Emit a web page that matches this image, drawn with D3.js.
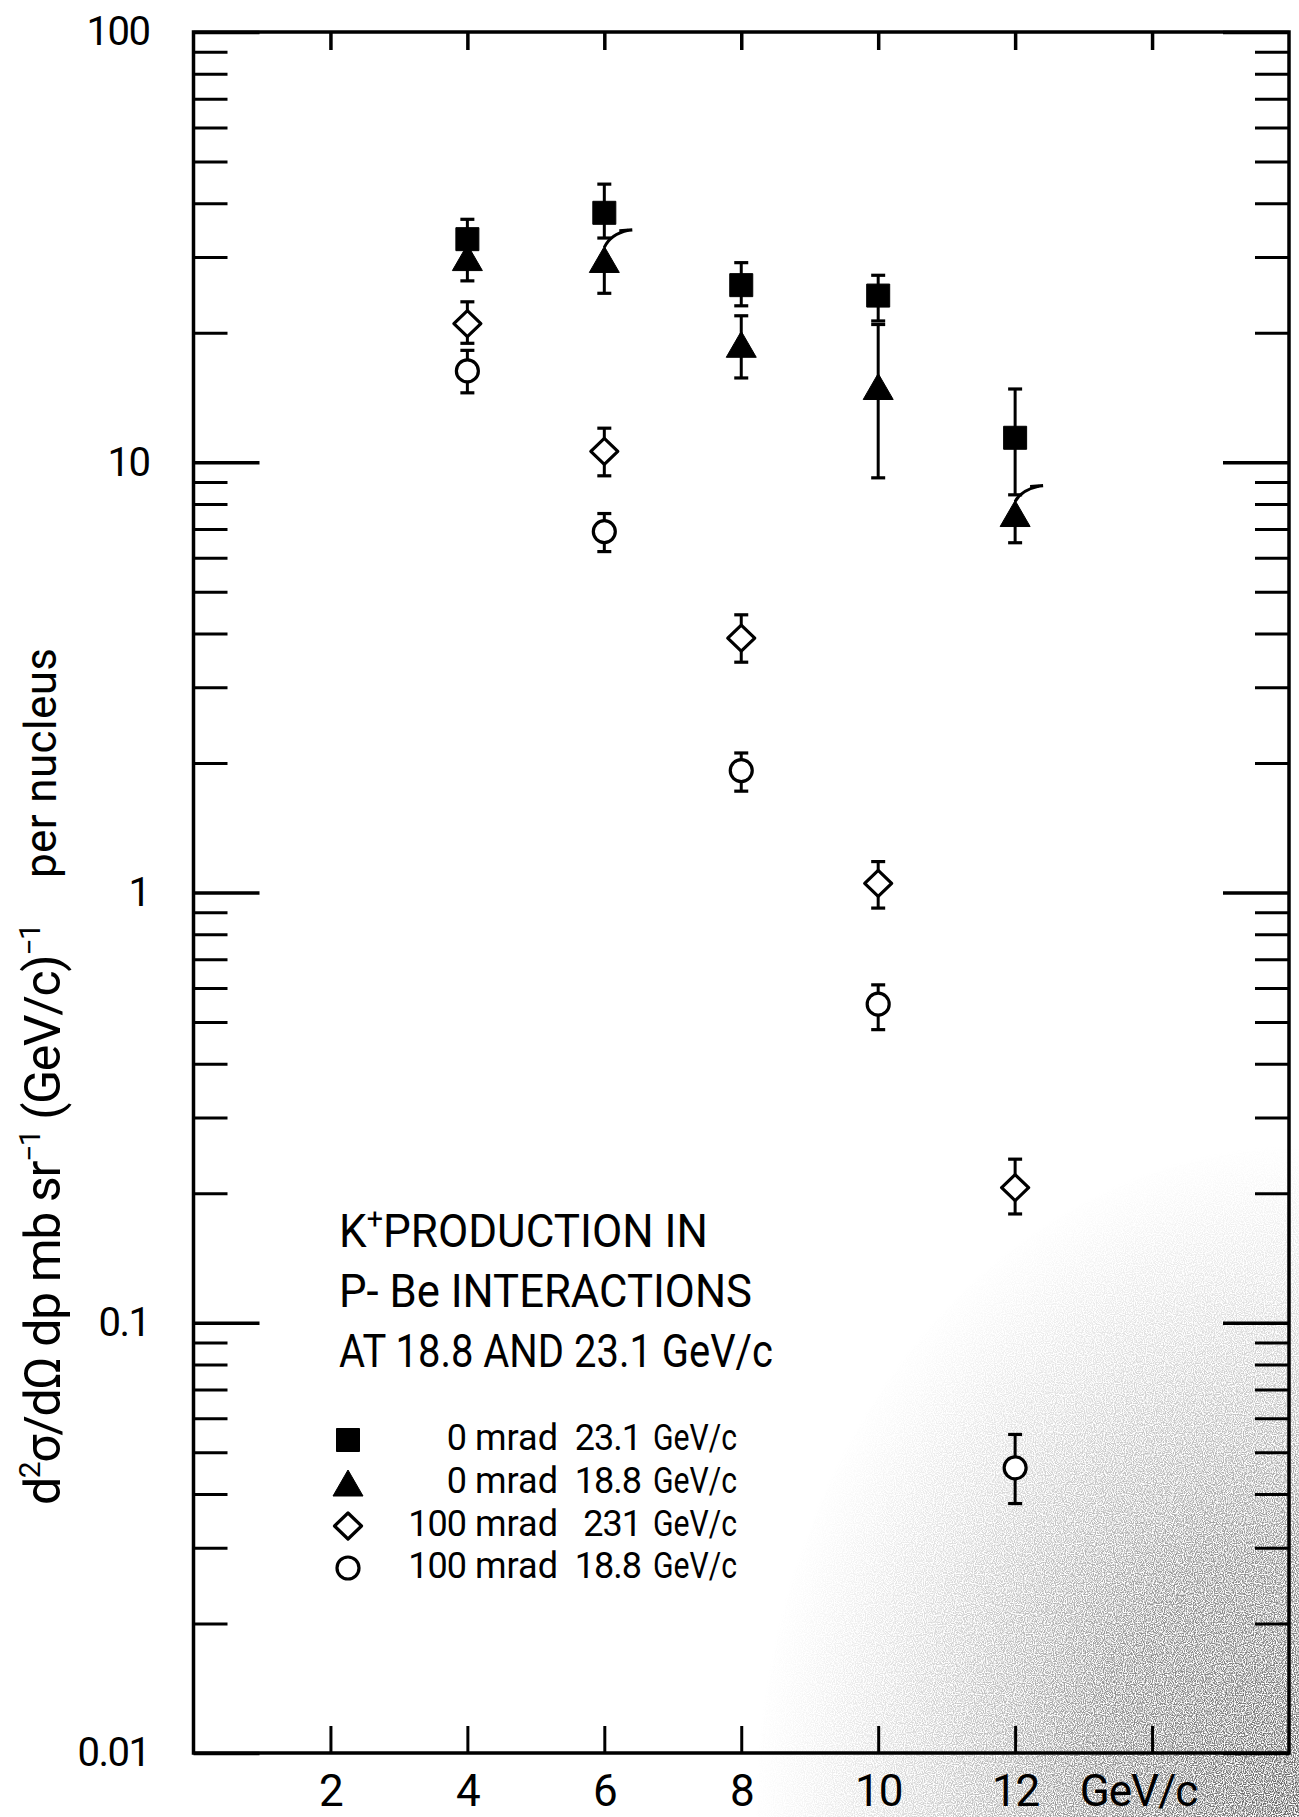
<!DOCTYPE html>
<html>
<head>
<meta charset="utf-8">
<script src="https://cdn.jsdelivr.net/npm/d3@7"></script>
<style>
  html, body { margin: 0; padding: 0; background: #fff; }
  svg { display: block; }
  text { font-family: Roboto, "DejaVu Sans", sans-serif; fill: #000; }
</style>
</head>
<body>
<svg id="chart" width="1299" height="1817"></svg>
<script>
// Laboratory momentum of the K+ (GeV/c)
const momentum = [4, 6, 8, 10, 12];

// 0 mrad, 23.1 GeV/c protons
const sq0Val = [33.0, 38.0, 25.8, 24.4, 11.4];
const sq0Hi  = [36.7, 44.3, 29.1, 27.2, 14.8];
const sq0Lo  = [29.5, 33.2, 23.1, 21.3, 8.4];

// 0 mrad, 18.8 GeV/c protons
const tri0Val = [29.9, 29.6, 18.8, 15.0, 7.6];
const tri0Hi  = [33.0, 34.6, 21.9, 20.9, 8.8];
const tri0Lo  = [26.4, 24.7, 15.7, 9.2, 6.5];
// upper bars of these momenta are drawn bent sideways
const tri0BentUpper = [6, 12];

// 100 mrad, 23.1 GeV/c protons
const dia100Val = [21.0, 10.6, 3.9, 1.05, 0.206];
const dia100Hi  = [23.6, 12.0, 4.42, 1.18, 0.240];
const dia100Lo  = [18.9, 9.3, 3.43, 0.92, 0.179];

// 100 mrad, 18.8 GeV/c protons
const cir100Val = [16.3, 6.9, 1.92, 0.55, 0.046];
const cir100Hi  = [18.2, 7.6, 2.11, 0.61, 0.055];
const cir100Lo  = [14.5, 6.2, 1.72, 0.48, 0.038];

// axis ticks and labels
const xTicks = [2, 4, 6, 8, 10, 12, 14];
const xTickLabels = ["2", "4", "6", "8", "10", "12", "GeV/c"];
const yMajor = [0.01, 0.1, 1, 10, 100];
const yTickLabels = ["0.01", "0.1", "1", "10", "100"];

// legend entries
const legendAngle = ["0", "0", "100", "100"];
const legendBeam = ["23.1", "18.8", "231", "18.8"];
const legendSymbol = ["square", "triangle", "diamond", "circle"];

const titleLines = ["PRODUCTION IN", "P- Be INTERACTIONS", "AT 18.8 AND 23.1 GeV/c"];

// ---------------------------------------------------------------
const svg = d3.select("#chart");
const frameL = 193.5, frameR = 1289, frameT = 32, frameB = 1753;

const x = d3.scaleLinear().domain([0, 16]).range([frameL, frameR]);
const y = d3.scaleLog().domain([0.01, 100]).range([frameB, frameT]);

const yMinor = [];
[0.01, 0.1, 1, 10].forEach(dec => { for (let k = 2; k <= 9; k++) yMinor.push(dec * k); });

// scanner shading in the lower right corner
const defs = svg.append("defs");
const grad = defs.append("radialGradient").attr("id", "shade")
  .attr("gradientUnits", "userSpaceOnUse")
  .attr("cx", 1299).attr("cy", 1817).attr("r", 640)
  .attr("gradientTransform", "translate(1299,1817) scale(0.85,1.05) translate(-1299,-1817)");
grad.append("stop").attr("offset", 0).attr("stop-color", "#444").attr("stop-opacity", 0.85);
grad.append("stop").attr("offset", 0.4).attr("stop-color", "#555").attr("stop-opacity", 0.65);
grad.append("stop").attr("offset", 0.75).attr("stop-color", "#777").attr("stop-opacity", 0.25);
grad.append("stop").attr("offset", 1).attr("stop-color", "#888").attr("stop-opacity", 0);
const grain = defs.append("filter").attr("id", "grain")
  .attr("x", 0).attr("y", 0).attr("width", 1).attr("height", 1);
grain.append("feTurbulence").attr("type", "fractalNoise").attr("baseFrequency", 0.9)
  .attr("numOctaves", 1).attr("seed", 3).attr("result", "noise");
grain.append("feColorMatrix").attr("in", "noise").attr("type", "matrix")
  .attr("values", "0 0 0 0 0  0 0 0 0 0  0 0 0 0 0  4 0 0 0 -1.5").attr("result", "dots");
grain.append("feComposite").attr("in", "SourceGraphic").attr("in2", "dots").attr("operator", "in");
svg.append("rect").attr("x", 560).attr("y", 1000).attr("width", 739).attr("height", 817)
  .attr("fill", "url(#shade)").attr("filter", "url(#grain)");

// ---------------------------------------------------------------
// axes
function styleAxis(g, width) {
  g.select(".domain").remove();
  g.selectAll(".tick line").attr("stroke", "#000").attr("stroke-width", width);
}

svg.append("g").attr("transform", `translate(${frameL},0)`)
  .call(d3.axisLeft(y).tickValues(yMinor).tickSize(-34).tickFormat(""))
  .call(g => styleAxis(g, 3));
svg.append("g").attr("transform", `translate(${frameL},0)`)
  .call(d3.axisLeft(y).tickValues(yMajor).tickSize(-66).tickPadding(44)
    .tickFormat((d, i) => yTickLabels[i]))
  .call(g => styleAxis(g, 3.5))
  .call(g => g.selectAll("text").attr("font-size", 40).attr("letter-spacing", -1.5)
    .attr("font-family", "Roboto, sans-serif"));

svg.append("g").attr("transform", `translate(${frameR},0)`)
  .call(d3.axisRight(y).tickValues(yMinor).tickSize(-34).tickFormat(""))
  .call(g => styleAxis(g, 3));
svg.append("g").attr("transform", `translate(${frameR},0)`)
  .call(d3.axisRight(y).tickValues(yMajor).tickSize(-66).tickFormat(""))
  .call(g => styleAxis(g, 3.5));

svg.append("g").attr("transform", `translate(0,${frameT})`)
  .call(d3.axisTop(x).tickValues(xTicks).tickSize(-18).tickFormat(""))
  .call(g => styleAxis(g, 3.5));
svg.append("g").attr("transform", `translate(0,${frameB})`)
  .call(d3.axisBottom(x).tickValues(xTicks).tickSize(-27).tickPadding(22)
    .tickFormat((d, i) => xTickLabels[i]))
  .call(g => styleAxis(g, 3))
  .call(g => g.selectAll("text").attr("font-size", 44).attr("letter-spacing", -1)
    .attr("font-family", "Roboto, sans-serif")
    .attr("dx", (d, i) => xTickLabels[i] === "GeV/c" ? -14 : 0));

svg.append("rect").attr("x", frameL).attr("y", frameT)
  .attr("width", frameR - frameL).attr("height", frameB - frameT)
  .attr("fill", "none").attr("stroke", "#000").attr("stroke-width", 3.5);

// ---------------------------------------------------------------
// markers
function markerPath(kind) {
  switch (kind) {
    case "square":   return "M-11.5,-11.5H11.5V11.5H-11.5Z";
    case "triangle": return "M0,-13L15,13H-15Z";
    case "diamond":  return "M0,-13L13.5,0L0,13L-13.5,0Z";
    default: {
      const p = d3.path(); p.arc(0, 0, 11, 0, 2 * Math.PI); p.closePath(); return p.toString();
    }
  }
}
function markerStyle(sel, kind) {
  const filled = kind === "square" || kind === "triangle";
  sel.attr("d", markerPath(kind))
    .attr("fill", filled ? "#000" : "#fff")
    .attr("stroke", "#000")
    .attr("stroke-width", filled ? 1 : 3.2)
    .attr("stroke-linejoin", "round");
}

const series = [
  { kind: "square",   val: sq0Val,    hi: sq0Hi,    lo: sq0Lo,    bent: [] },
  { kind: "triangle", val: tri0Val,   hi: tri0Hi,   lo: tri0Lo,   bent: tri0BentUpper },
  { kind: "diamond",  val: dia100Val, hi: dia100Hi, lo: dia100Lo, bent: [] },
  { kind: "circle",   val: cir100Val, hi: cir100Hi, lo: cir100Lo, bent: [] }
];

const capHalf = 7;
const plot = svg.append("g");
series.forEach(s => {
  const pts = momentum.map((p, i) => ({ p, v: s.val[i], hi: s.hi[i], lo: s.lo[i], bent: s.bent.includes(p) }));
  const g = plot.append("g");
  pts.forEach(d => {
    const cx = x(d.p);
    // lower bar
    g.append("line").attr("x1", cx).attr("x2", cx).attr("y1", y(d.v)).attr("y2", y(d.lo))
      .attr("stroke", "#000").attr("stroke-width", 3);
    g.append("line").attr("x1", cx - capHalf).attr("x2", cx + capHalf)
      .attr("y1", y(d.lo)).attr("y2", y(d.lo)).attr("stroke", "#000").attr("stroke-width", 3.2);
    if (d.bent) {
      const apex = y(d.v) - 12, yh = y(d.hi), ex = cx + 24;
      g.append("path")
        .attr("d", `M${cx},${apex}Q${cx + 6},${yh + 4} ${ex},${yh}`)
        .attr("fill", "none").attr("stroke", "#000").attr("stroke-width", 3);
      g.append("line").attr("x1", ex - 9).attr("x2", ex + 4)
        .attr("y1", yh + 0.5).attr("y2", yh - 0.5).attr("stroke", "#000").attr("stroke-width", 3.2);
    } else {
      g.append("line").attr("x1", cx).attr("x2", cx).attr("y1", y(d.v)).attr("y2", y(d.hi))
        .attr("stroke", "#000").attr("stroke-width", 3);
      g.append("line").attr("x1", cx - capHalf).attr("x2", cx + capHalf)
        .attr("y1", y(d.hi)).attr("y2", y(d.hi)).attr("stroke", "#000").attr("stroke-width", 3.2);
    }
  });
  g.selectAll("path.mk").data(pts).join("path").attr("class", "mk")
    .attr("transform", d => `translate(${x(d.p)},${y(d.v)})`)
    .call(sel => markerStyle(sel, s.kind));
});

// ---------------------------------------------------------------
// y-axis title
const ylab = svg.append("text")
  .attr("transform", "translate(60,1505) rotate(-90)")
  .attr("font-size", 50)
  .attr("textLength", 582).attr("lengthAdjust", "spacing");
ylab.append("tspan").text("d");
ylab.append("tspan").attr("font-size", 30).attr("dy", -20).text("2");
ylab.append("tspan").attr("dy", 20).text("σ/dΩ dp mb sr");
ylab.append("tspan").attr("font-size", 30).attr("dy", -20).text("−1");
ylab.append("tspan").attr("dy", 20).text(" (GeV/c)");
ylab.append("tspan").attr("font-size", 30).attr("dy", -20).text("−1");

svg.append("text")
  .attr("transform", "translate(56,878) rotate(-90)")
  .attr("font-size", 44)
  .attr("textLength", 230).attr("lengthAdjust", "spacing")
  .text("per nucleus");

// ---------------------------------------------------------------
// annotation block
const titleX = 339, titleBase = [1247, 1307, 1367], titleLen = [369, 413, 434];
titleLines.forEach((t, i) => {
  const tx = svg.append("text").attr("x", titleX).attr("y", titleBase[i])
    .attr("font-size", 46)
    .attr("textLength", titleLen[i]).attr("lengthAdjust", "spacingAndGlyphs");
  if (i === 0) {
    tx.append("tspan").text("K");
    tx.append("tspan").attr("font-size", 30).attr("dy", -18).text("+");
    tx.append("tspan").attr("dy", 18).text(t);
  } else {
    tx.text(t);
  }
});

// legend
const legBase = [1450, 1493, 1536, 1578];
legendSymbol.forEach((k, i) => {
  svg.append("path").attr("transform", `translate(348,${legBase[i] - 10})`)
    .call(sel => markerStyle(sel, k));
  svg.append("text").attr("x", 466).attr("y", legBase[i]).attr("font-size", 36)
    .attr("text-anchor", "end").attr("letter-spacing", -1).text(legendAngle[i]);
  svg.append("text").attr("x", 475).attr("y", legBase[i]).attr("font-size", 36)
    .text("mrad");
  svg.append("text").attr("x", 641).attr("y", legBase[i]).attr("font-size", 36)
    .attr("text-anchor", "end").attr("letter-spacing", -1).text(legendBeam[i]);
  svg.append("text").attr("x", 653).attr("y", legBase[i]).attr("font-size", 36)
    .attr("textLength", 84).attr("lengthAdjust", "spacingAndGlyphs").text("GeV/c");
});
</script>
</body>
</html>
